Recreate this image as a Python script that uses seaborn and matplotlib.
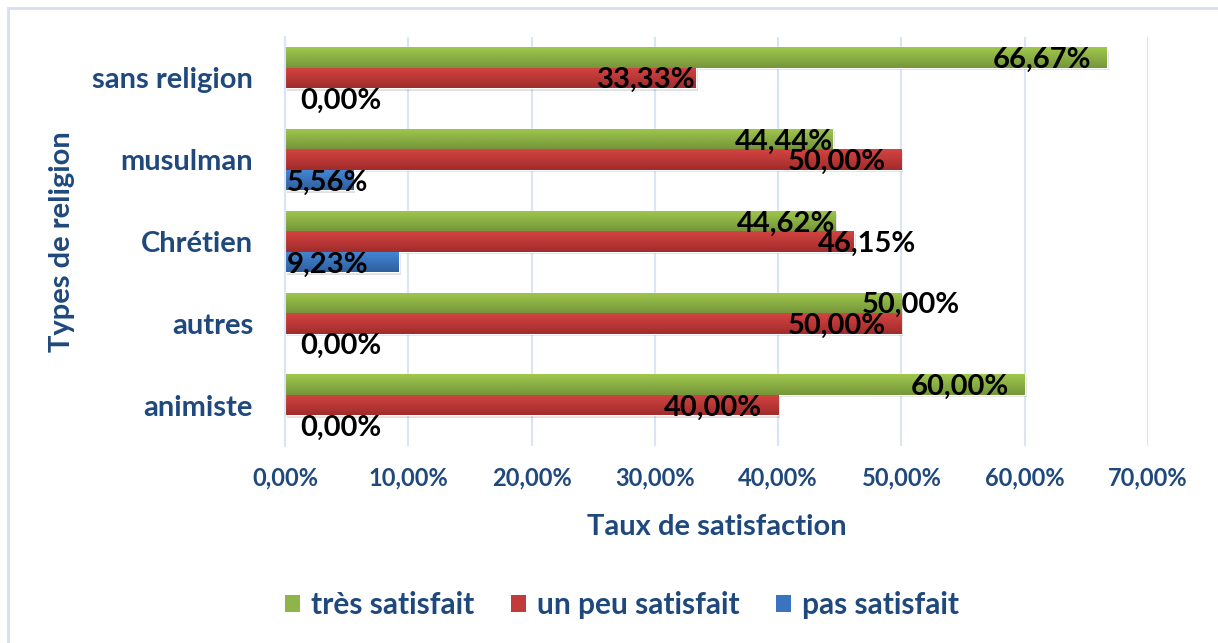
import numpy as np
import pandas as pd
import matplotlib
matplotlib.use("Agg")
import matplotlib.pyplot as plt
from matplotlib.patches import Rectangle, Patch
from matplotlib.colors import LinearSegmentedColormap
import seaborn as sns

categories = ["sans religion", "musulman", "Chrétien", "autres", "animiste"]
series = ["très satisfait", "un peu satisfait", "pas satisfait"]
tres = [66.67, 44.44, 44.62, 50.00, 60.00]
unpeu = [33.33, 50.00, 46.15, 50.00, 40.00]
pas = [0.00, 5.56, 9.23, 0.00, 0.00]
xticks = [0, 10, 20, 30, 40, 50, 60, 70]

colors = ["#8fb448", "#c23b3b", "#3a74c0"]
grad = [("#9fc84e", "#76963a"), ("#d44442", "#a02c2b"), ("#4488d6", "#2f5f9e")]
navy = "#1f497d"

df = pd.DataFrame({
    "cat": categories * 3,
    "serie": [series[0]] * 5 + [series[1]] * 5 + [series[2]] * 5,
    "val": tres + unpeu + pas,
})

sns.set_theme(style="white")
plt.rcParams["font.family"] = ["Lato", "DejaVu Sans"]
plt.rcParams["font.weight"] = "bold"

fig = plt.figure(figsize=(12.18, 6.43), dpi=100)
ax = fig.add_axes([285 / 1218, 1 - 446 / 643, (1148 - 285) / 1218, (446 - 37) / 643])

sns.barplot(data=df, y="cat", x="val", hue="serie", order=categories,
            hue_order=series, palette=colors, orient="h", width=0.75,
            gap=0, ax=ax, legend=False, saturation=1)

ax.set_xlim(0, 70)
ax.set_ylim(4.5, -0.5)
ax.set_xticks(xticks)
ax.set_xticklabels([f"{t:.2f}%".replace(".", ",") for t in xticks],
                   color=navy, fontsize=17, fontweight="bold")
ax.tick_params(axis="x", pad=15, length=0)
ax.tick_params(axis="y", pad=23, length=0)
ax.set_yticks(range(len(categories)))
ax.set_yticklabels(categories, color=navy, fontsize=21, fontweight="bold")
ax.grid(axis="x", color="#d9e4f5", linewidth=1.5)
ax.set_axisbelow(True)
for s in ["top", "right", "bottom"]:
    ax.spines[s].set_visible(False)
ax.spines["left"].set_color("#d9e4f5")
ax.spines["left"].set_linewidth(1.5)

ax.set_xlabel("Taux de satisfaction", color=navy, fontsize=21, fontweight="bold", va="center")
ax.set_ylabel("Types de religion", color=navy, fontsize=21, fontweight="bold", va="center")
ax.xaxis.set_label_coords(0.5, (446 - 527) / 409)
ax.yaxis.set_label_coords((62 - 285) / 863, 0.5)

# gradient fill on bars
for ci, cont in enumerate(ax.containers):
    cmap = LinearSegmentedColormap.from_list("g", [grad[ci][0], grad[ci][1]])
    for p in cont.patches:
        x0, y0 = p.get_x(), p.get_y()
        w, h = p.get_width(), p.get_height()
        if w <= 0:
            continue
        sh = Rectangle((x0 + 0.15, y0 + 0.03), w, h, color="#000000", alpha=0.12, zorder=1.5, lw=0)
        ax.add_patch(sh)
        im = ax.imshow(np.linspace(0, 1, 50).reshape(-1, 1), cmap=cmap, aspect="auto",
                       extent=(x0, x0 + w, y0 + h, y0), zorder=2.5)
        im.set_clip_path(p)
        p.set_zorder(2)

# data labels
fs = 21
flush = {(1, "sans religion"), (0, "musulman"), (0, "Chrétien")}
outside = {(1, "Chrétien"): 1.05, (0, "autres"): 0.75}
for ci, cont in enumerate(ax.containers):
    vals = [tres, unpeu, pas][ci]
    for i, p in enumerate(cont.patches):
        v = vals[i]
        cat = categories[i]
        yc = p.get_y() + p.get_height() / 2 + 0.03
        txt = f"{v:.2f}%".replace(".", ",")
        kw = dict(va="center", fontsize=fs, fontweight="bold", color="black", zorder=5)
        if v == 0:
            ax.text(1.2, yc, txt, ha="left", **kw)
        elif ci == 2:
            ax.text(0.15, yc, txt, ha="left", **kw)
        elif (ci, cat) in outside:
            ax.text(v + outside[(ci, cat)], yc, txt, ha="center", **kw)
        elif (ci, cat) in flush:
            ax.text(v, yc, txt, ha="right", **kw)
        else:
            ax.text(v - 1.3, yc, txt, ha="right", **kw)

# legend
handles = [Patch(facecolor=c, edgecolor="none") for c in colors]
leg = fig.legend(handles, series, loc="center", bbox_to_anchor=(622 / 1218, 1 - 605 / 643),
                 ncol=3, frameon=False, fontsize=21.5, handlelength=0.5, handleheight=0.5,
                 handletextpad=0.35, columnspacing=1.25)
for t in leg.get_texts():
    t.set_color(navy)
    t.set_fontweight("bold")

# chart border
fig.patches.append(Rectangle((8 / 1218, -0.01), 1.02, 1 - 8 / 643 + 0.01, transform=fig.transFigure,
                             fill=False, edgecolor="#d3e0f3", linewidth=2))

fig.savefig("out.png", dpi=100)
